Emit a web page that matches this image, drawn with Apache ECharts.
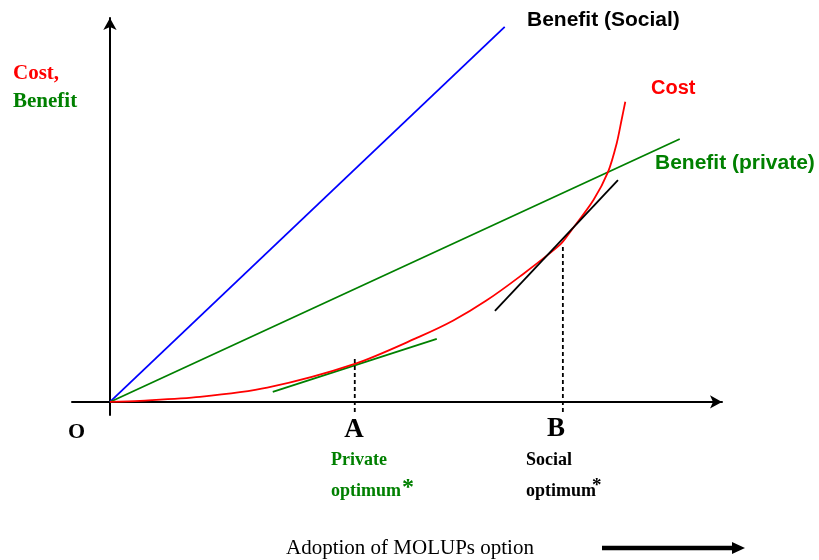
<!DOCTYPE html>
<html>
<head>
    <meta charset="utf-8">
    <title>Cost / Benefit</title>
    <script src="https://cdn.jsdelivr.net/npm/echarts@6/dist/echarts.min.js"></script>
</head>
<body style="margin:0;background:#fff">
    <div id="main" style="width: 819px;height:560px;"></div>
    <script type="text/javascript">
        // values (x: adoption, y: cost / benefit, both 0..100)
        var socialX = [0, 64.5];
        var socialY = [0, 97.7];
        var privateX = [0, 93.1];
        var privateY = [0, 68.5];
        var costX = [0, 4.9, 14.7, 25.7, 40.0, 50.6, 56.1, 61.5, 67.0, 73.5, 75.2, 79.0, 81.4, 82.8, 83.6, 84.2];
        var costY = [0, 0.3, 1.3, 3.7, 9.9, 17.0, 21.2, 26.4, 32.7, 40.9, 44.3, 52.6, 60.0, 67.4, 73.5, 78.2];
        var tangentAX = [26.6, 53.4];
        var tangentAY = [2.6, 16.4];
        var tangentBX = [62.9, 83.0];
        var tangentBY = [23.7, 57.8];
        var dropAX = [40.0, 40.0];
        var dropAY = [-2.6, 11.5];
        var dropBX = [74.0, 74.0];
        var dropBY = [-2.6, 40.9];

        function pairs(xs, ys) {
            return xs.map(function (x, i) { return [x, ys[i]]; });
        }

        var serif = '"Liberation Serif", "Times New Roman", serif';
        var sans = '"Liberation Sans", Arial, sans-serif';

        function txt(s, x, y, color, size, family, weight, align) {
            return {
                type: 'text', x: x, y: y, silent: true,
                style: {
                    text: s, fill: color, fontSize: size, fontFamily: family,
                    fontWeight: weight || 'bold', align: align || 'left', verticalAlign: 'middle'
                }
            };
        }

        var myChart = echarts.init(document.getElementById('main'));

        var axisCommon = {
            type: 'value',
            axisLine: { show: true, onZero: true, symbol: ['none', 'arrow'], symbolSize: [10, 12],
                lineStyle: { color: '#000', width: 2 } },
            axisTick: { show: false },
            axisLabel: { show: false },
            splitLine: { show: false }
        };

        var option = {
            animation: false,
            grid: { left: 72, right: 97, top: 18, bottom: 145 },
            xAxis: Object.assign({}, axisCommon, { min: -6.2, max: 100 }),
            yAxis: Object.assign({}, axisCommon, { min: -3.4, max: 100 }),
            series: [
                { type: 'line', data: pairs(socialX, socialY), symbol: 'none',
                  lineStyle: { color: '#0000ff', width: 1.8 } },
                { type: 'line', data: pairs(privateX, privateY), symbol: 'none',
                  lineStyle: { color: '#008000', width: 1.8 } },
                { type: 'line', data: pairs(tangentAX, tangentAY), symbol: 'none',
                  lineStyle: { color: '#008000', width: 1.8 } },
                { type: 'line', data: pairs(costX, costY), symbol: 'none', smooth: 0.3,
                  lineStyle: { color: '#ff0000', width: 1.8 } },
                { type: 'line', data: pairs(tangentBX, tangentBY), symbol: 'none',
                  lineStyle: { color: '#000', width: 1.8 } },
                { type: 'line', data: pairs(dropAX, dropAY), symbol: 'none',
                  lineStyle: { color: '#000', width: 1.8, type: [4, 3] } },
                { type: 'line', data: pairs(dropBX, dropBY), symbol: 'none',
                  lineStyle: { color: '#000', width: 1.8, type: [4, 3] } }
            ],
            graphic: [
                txt('Cost,', 13, 74, '#ff0000', 21, serif),
                txt('Benefit', 13, 102, '#008000', 21, serif),
                txt('Benefit (Social)', 527, 20, '#000', 21, sans),
                txt('Cost', 651, 88, '#ff0000', 20, sans),
                txt('Benefit (private)', 655, 163, '#008000', 21, sans),
                txt('O', 68, 432, '#000', 22, serif),
                txt('A', 354, 430, '#000', 27, serif, 'bold', 'center'),
                txt('B', 556, 429, '#000', 27, serif, 'bold', 'center'),
                txt('Private', 331, 460, '#008000', 18, serif),
                txt('optimum', 331, 491, '#008000', 18, serif),
                txt('*', 402, 488, '#008000', 24, serif),
                txt('Social', 526, 460, '#000', 18, serif),
                txt('optimum', 526, 491, '#000', 18, serif),
                txt('*', 592, 486, '#000', 19, serif),
                txt('Adoption of MOLUPs option', 286, 548, '#000', 21, serif, 'normal'),
                { type: 'line', silent: true, shape: { x1: 602, y1: 548, x2: 735, y2: 548 },
                  style: { stroke: '#000', lineWidth: 4.5 } },
                { type: 'polygon', silent: true, shape: { points: [[732, 542], [745, 548], [732, 554]] },
                  style: { fill: '#000' } }
            ]
        };

        myChart.setOption(option);
    </script>
</body>
</html>
